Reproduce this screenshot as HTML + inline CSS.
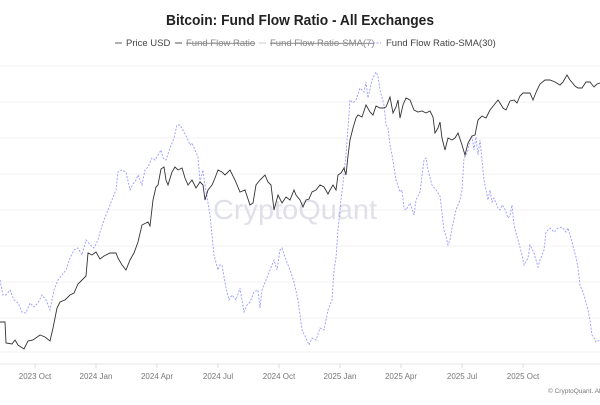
<!DOCTYPE html>
<html><head><meta charset="utf-8"><style>
body{margin:0;background:#fff;width:600px;height:400px;overflow:hidden;font-family:"Liberation Sans",sans-serif}
</style></head><body>
<svg width="600" height="400" xmlns="http://www.w3.org/2000/svg" font-family="Liberation Sans, sans-serif">
<text x="166" y="25" font-size="15" font-weight="bold" fill="#222" textLength="268" lengthAdjust="spacingAndGlyphs">Bitcoin: Fund Flow Ratio - All Exchanges</text>
<g font-size="9.5">
<line x1="115" y1="43" x2="122" y2="43" stroke="#666"/><text x="126" y="46" fill="#444">Price USD</text>
<line x1="175" y1="43" x2="182" y2="43" stroke="#555"/><text x="186" y="46" fill="#888" text-decoration="line-through">Fund Flow Ratio</text>
<line x1="259" y1="43" x2="266" y2="43" stroke="#ccc"/><text x="270" y="46" fill="#888" text-decoration="line-through">Fund Flow Ratio-SMA(7)</text>
<line x1="373" y1="43" x2="381" y2="43" stroke="#99f" stroke-dasharray="2,1.5"/><text x="386" y="46" fill="#444">Fund Flow Ratio-SMA(30)</text>
</g>
<g stroke="#f0f0f0" stroke-width="1">
<line x1="0" y1="66" x2="600" y2="66"/><line x1="0" y1="102" x2="600" y2="102"/><line x1="0" y1="138" x2="600" y2="138"/><line x1="0" y1="174" x2="600" y2="174"/><line x1="0" y1="210" x2="600" y2="210"/><line x1="0" y1="246" x2="600" y2="246"/><line x1="0" y1="282" x2="600" y2="282"/><line x1="0" y1="318" x2="600" y2="318"/><line x1="0" y1="352" x2="600" y2="352"/>
</g>
<line x1="0" y1="364" x2="600" y2="364" stroke="#e4e4e4"/>
<text x="213" y="219" font-size="28" fill="#e0e0e8" textLength="164" lengthAdjust="spacingAndGlyphs">CryptoQuant</text>
<polyline fill="none" stroke="#9a9aff" stroke-width="0.9" stroke-dasharray="2,1.5" points="0,280 3,295 6,295 10,290 14,300 18,303 22,312 26,313 30,303 34,307 38,303 42,295 46,300 50,310 54,290 58,280 62,275 66,270 70,258 74,250 78,248 82,255 86,240 88,242 90,245 94,248 98,240 100,232 104,220 108,210 112,200 116,190 118,172 122,170 126,172 130,190 133,184 136,180 138,175 142,185 145,170 148,167 152,158 155,160 158,155 161,150 163,158 166,160 170,148 174,138 177,125 180,125 184,132 188,140 190,145 192,143 195,150 198,157 200,182 203,170 205,185 210,215 214,255 218,270 220,265 222,265 226,288 229,300 232,295 236,300 240,288 244,312 247,305 250,302 254,292 258,290 260,308 262,290 266,280 270,270 274,260 277,270 280,250 282,248 286,260 290,270 294,282 298,300 302,330 306,338 309,345 312,338 316,340 320,328 324,330 328,310 332,300 334,270 336,258 338,230 341,200 344,175 346,155 350,100 353,103 356,100 360,88 364,92 366,82 368,98 372,80 376,72 378,76 380,90 384,105 386,125 388,128 390,145 392,155 396,180 400,192 402,190 404,208 406,210 410,203 414,215 416,200 420,192 424,160 426,158 428,170 432,185 436,190 440,196 444,230 446,236 448,245 450,240 452,228 456,210 460,200 462,190 464,158 466,155 468,150 470,140 472,137 474,150 476,137 478,155 480,140 484,180 488,200 490,190 492,202 494,198 498,208 500,210 502,205 504,207 506,212 508,218 510,216 512,205 514,225 518,240 522,255 524,265 528,258 530,245 534,253 538,267 540,260 544,250 546,232 550,228 554,232 558,228 562,227 566,232 568,228 572,242 574,250 576,257 578,268 580,285 584,295 588,310 590,320 592,335 594,338 596,342 600,340"/>
<polyline fill="none" stroke="#333" stroke-width="0.9" points="0,322 5,322 6,343 12,344 15,340 18,345 24,349 28,341 33,340 40,335 45,337 50,341 53,328 57,308 60,302 65,300 70,295 74,293 78,284 82,280 86,276 88,253 92,255 96,252 100,259 104,256 110,253 116,253 118,258 122,265 126,270 130,260 134,253 138,242 142,225 148,222 150,226 153,200 156,187 158,185 161,169 164,167 166,180 168,185 172,172 175,167 178,170 182,168 185,178 188,185 192,180 196,188 200,182 203,185 205,200 208,190 212,185 215,178 218,170 222,172 225,175 230,170 235,180 240,192 245,190 250,205 253,203 256,185 260,180 265,175 268,182 271,185 274,210 278,195 282,203 286,197 290,200 294,190 296,195 300,200 303,207 306,200 309,199 312,192 316,190 320,185 324,187 328,194 330,190 333,185 336,190 338,175 341,173 344,168 346,175 348,156 350,140 353,128 356,118 358,115 362,117 366,105 370,112 373,115 376,106 380,108 383,108 386,107 390,97 393,113 396,107 398,100 400,118 403,105 406,98 410,100 414,110 418,112 422,111 426,113 430,111 433,117 435,133 438,128 440,122 442,138 445,150 448,138 452,140 455,138 458,133 462,145 465,155 468,143 472,136 475,135 478,120 482,116 486,118 490,110 494,105 498,100 500,103 503,108 506,110 510,101 514,100 517,103 520,96 523,93 526,93 530,93 533,100 537,90 540,84 545,80 550,80 555,82 560,85 563,82 567,75 570,80 575,86 578,88 582,88 586,82 590,82 594,87 597,84 600,83"/>
<g stroke="#ddd"><line x1="35" y1="364" x2="35" y2="368"/><line x1="96" y1="364" x2="96" y2="368"/><line x1="157" y1="364" x2="157" y2="368"/><line x1="218" y1="364" x2="218" y2="368"/><line x1="279" y1="364" x2="279" y2="368"/><line x1="340" y1="364" x2="340" y2="368"/><line x1="401" y1="364" x2="401" y2="368"/><line x1="462" y1="364" x2="462" y2="368"/><line x1="523" y1="364" x2="523" y2="368"/></g>
<g font-size="8" fill="#777" text-anchor="middle">
<text x="35" y="379">2023 Oct</text><text x="96" y="379">2024 Jan</text><text x="157" y="379">2024 Apr</text><text x="218" y="379">2024 Jul</text><text x="279" y="379">2024 Oct</text><text x="340" y="379">2025 Jan</text><text x="401" y="379">2025 Apr</text><text x="462" y="379">2025 Jul</text><text x="523" y="379">2025 Oct</text>
</g>
<text x="548" y="393" font-size="6.5" fill="#777">© CryptoQuant. All Rights Reserved</text>
</svg>
</body></html>
